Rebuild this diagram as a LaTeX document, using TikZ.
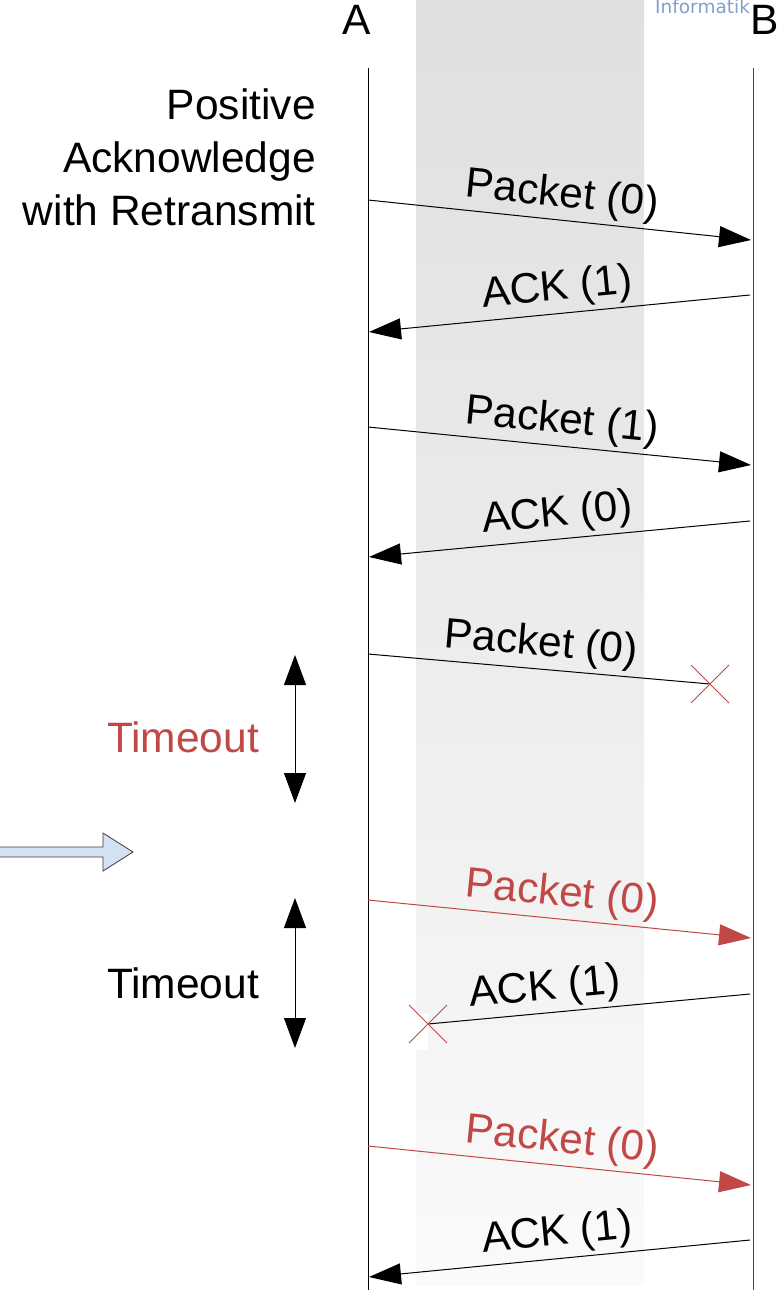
\documentclass[tikz,border=0pt]{standalone}
\usepackage{fontspec}
\setmainfont{Liberation Sans}
\newfontfamily\infofont{DejaVu Sans}
\usetikzlibrary{arrows.meta}
\definecolor{msgred}{RGB}{192,72,70}
\definecolor{bandtop}{RGB}{223,223,223}
\definecolor{bandbot}{RGB}{250,250,250}
\definecolor{infoblue}{RGB}{125,160,200}
\definecolor{blockfill}{RGB}{212,225,244}
\definecolor{blockline}{RGB}{60,60,60}
\begin{document}
\begin{tikzpicture}[x=1pt,y=-1pt,
  big/.style={font=\fontsize{42.5}{53}\selectfont},
  msg/.style={line width=1pt,-{Triangle[length=32pt,width=21pt]}},
  lost/.style={line width=1pt},
  lbl/.style={big,sloped,above=3pt,inner sep=1pt},
  lifeline/.style={line width=1pt},
  timer/.style={line width=1pt,{Triangle[length=30pt,width=22pt]}-{Triangle[length=30pt,width=22pt]}},
  crossmark/.style={msgred,line width=1pt}]
\useasboundingbox (0,0) rectangle (784,1290);

% shaded channel between the two stations
\fill[top color=bandtop,bottom color=bandbot] (416,0) rectangle (644,1285);
\fill[white] (416,1013) rectangle (428,1050);

% header
\node[font=\infofont\fontsize{18.5}{20}\selectfont,text=infoblue,anchor=base west,inner sep=0pt] (info) at (655,14) {Informatik};
\node[big] (A) at (357,20) {A};
\node[big] (B) at (765,20) {B};

% lifelines
\coordinate (Atop) at (368,68);  \coordinate (Abot) at (368,1290);
\coordinate (Btop) at (753,68);  \coordinate (Bbot) at (753,1290);
\draw[lifeline] (Atop) -- (Abot);
\draw[lifeline,black!75] (Btop) -- (Bbot);

% title
\node[big,align=right,anchor=east,inner sep=0pt] (title) at (316,157) {Positive\\Acknowledge\\with Retransmit};

% message end points
\coordinate (s1) at (368,200);  \coordinate (r1) at (751,240);
\coordinate (s2) at (750,295);  \coordinate (r2) at (369,332);
\coordinate (s3) at (368,427);  \coordinate (r3) at (751,465);
\coordinate (s4) at (750,521);  \coordinate (r4) at (369,557);
\coordinate (s5) at (368,654);  \coordinate (x5) at (710,684);
\coordinate (s6) at (368,900);  \coordinate (r6) at (751,938);
\coordinate (s7) at (750,994);  \coordinate (x7) at (428,1024);
\coordinate (s8) at (368,1146); \coordinate (r8) at (751,1185);
\coordinate (s9) at (750,1240); \coordinate (r9) at (369,1277);

% messages
\draw[msg] (s1) -- node[lbl] (m1) {Packet (0)} (r1);
\draw[msg] (s2) -- node[lbl] (m2) {ACK (1)} (r2);
\draw[msg] (s3) -- node[lbl] (m3) {Packet (1)} (r3);
\draw[msg] (s4) -- node[lbl] (m4) {ACK (0)} (r4);
\draw[lost] (s5) -- node[lbl] (m5) {Packet (0)} (x5);
\draw[msg,msgred] (s6) -- node[lbl] (m6) {Packet (0)} (r6);
\draw[lost] (s7) -- node[lbl,pos=0.63] (m7) {ACK (1)} (x7);
\draw[msg,msgred] (s8) -- node[lbl] (m8) {Packet (0)} (r8);
\draw[msg] (s9) -- node[lbl] (m9) {ACK (1)} (r9);

% loss marks
\draw[crossmark] (x5) +(-19,-19) -- +(19,19) (x5) +(-19,19) -- +(19,-19);
\draw[crossmark] (x7) +(-19,-19) -- +(19,19) (x7) +(-19,19) -- +(19,-19);

% timeouts
\coordinate (t1a) at (295,655);  \coordinate (t1b) at (295,803);
\coordinate (t2a) at (295,898);  \coordinate (t2b) at (295,1048);
\draw[timer] (t1a) -- (t1b);
\draw[timer] (t2a) -- (t2b);
\node[big,text=msgred] (to1) at (183,737) {Timeout};
\node[big] (to2) at (183,983) {Timeout};

% block arrow on the left
\filldraw[fill=blockfill,draw=blockline,line width=0.8pt]
  (-2,847) -- (103,847) -- (103,833) -- (133,852) -- (103,871) -- (103,857) -- (-2,857) -- cycle;
\end{tikzpicture}
\end{document}
